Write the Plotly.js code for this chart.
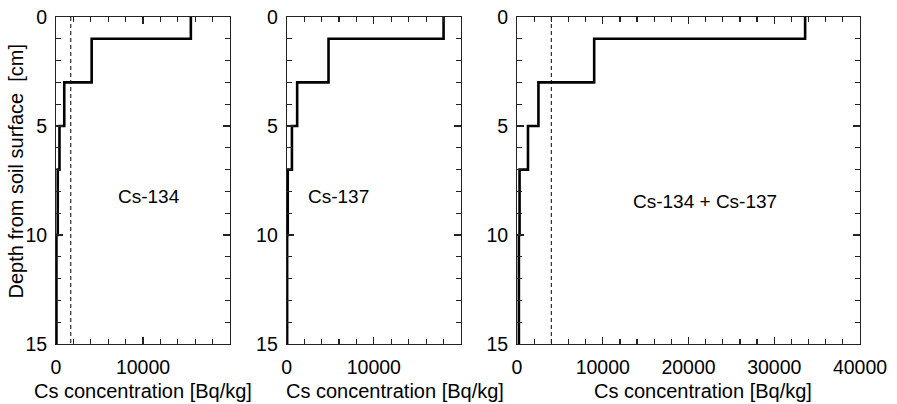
<!DOCTYPE html>
<html>
<head>
<meta charset="utf-8">
<script src="https://cdn.plot.ly/plotly-3.0.1.min.js"></script>
<style>html,body{margin:0;padding:0;background:#fff;}#chart{width:897px;height:404px;}</style>
</head>
<body>
<div id="chart"></div>
<script>
// Depth layer boundaries [cm]
const depthBounds = [0, 1, 3, 5, 7, 10, 15];
// Concentration per layer [Bq/kg]
const cs134 = [15500, 4100, 950, 400, 200, 50];
const cs137 = [18000, 4800, 1200, 600, 120, 50];
const csTotal = [33600, 9000, 2500, 1280, 300, 220];
// Dashed reference lines [Bq/kg]
const ref134 = 1700;
const refTotal = 4000;
// Tick values
const xTicksSmall = [0, 10000];
const xTicksLarge = [0, 10000, 20000, 30000, 40000];
const yTicks = [0, 5, 10, 15];
// Labels
const panelLabels = ["Cs-134", "Cs-137", "Cs-134 + Cs-137"];
const xTitle = "Cs concentration [Bq/kg]";
const yTitle = "Depth from soil surface  [cm]";

const FONT = "Liberation Sans, Arial, Helvetica, sans-serif";
const FS = 19.5;
const FT = 20;
const AX = "#222";

function stepTrace(vals, xa, ya) {
  return {
    x: vals.concat([vals[vals.length - 1]]),
    y: depthBounds.slice(),
    xaxis: xa, yaxis: ya,
    mode: "lines",
    line: {color: "#000", width: 2.6, shape: "vh"},
    hoverinfo: "skip", showlegend: false
  };
}
function dashTrace(v, xa, ya) {
  return {
    x: [v, v], y: [depthBounds[0], depthBounds[depthBounds.length - 1]],
    xaxis: xa, yaxis: ya, mode: "lines",
    line: {color: "#000", width: 1, dash: "4px,3px"},
    hoverinfo: "skip", showlegend: false
  };
}

const data = [
  stepTrace(cs134, "x", "y"),
  dashTrace(ref134, "x", "y"),
  stepTrace(cs137, "x2", "y2"),
  stepTrace(csTotal, "x3", "y3"),
  dashTrace(refTotal, "x3", "y3")
];

function xax(domain, range, tickvals, anchor) {
  return {
    anchor: anchor, domain: domain, range: range,
    tickmode: "array", tickvals: tickvals, ticktext: tickvals.map(String),
    ticks: "inside", ticklen: 7, tickwidth: 1.2, tickcolor: AX,
    showline: true, linecolor: AX, linewidth: 1, mirror: "allticks",
    showgrid: false, zeroline: false,
    minor: {tickmode: "linear", tick0: 0, dtick: 2000, ticks: "inside", ticklen: 5, tickwidth: 1.2, tickcolor: AX},
    tickfont: {family: FONT, size: FS, color: "#000"},
    ticklabelstandoff: 6
  };
}
function yax(anchor) {
  return {
    anchor: anchor, domain: [0, 1], range: [15, 0],
    tickmode: "array", tickvals: yTicks, ticktext: yTicks.map(String),
    ticks: "inside", ticklen: 7, tickwidth: 1.2, tickcolor: AX,
    showline: true, linecolor: AX, linewidth: 1, mirror: "allticks",
    showgrid: false, zeroline: false,
    minor: {tickmode: "linear", tick0: 0, dtick: 1, ticks: "inside", ticklen: 5, tickwidth: 1.2, tickcolor: AX},
    tickfont: {family: FONT, size: FS, color: "#000"},
    ticklabelstandoff: 4
  };
}

const W = 804, H = 327, L = 56, T = 17;
function px2x(px) { return (px - L) / W; }
function px2y(py) { return (T + H - py) / H; }

const layout = {
  width: 897, height: 404,
  margin: {l: 56, r: 37, t: 17, b: 60},
  paper_bgcolor: "#fff", plot_bgcolor: "#fff",
  font: {family: FONT, size: FS, color: "#000"},
  showlegend: false,
  xaxis: xax([0, px2x(230)], [0, 20000], xTicksSmall, "y"),
  xaxis2: xax([px2x(286.7), px2x(461)], [0, 20000], xTicksSmall, "y2"),
  xaxis3: xax([px2x(517), 1], [0, 40000], xTicksLarge, "y3"),
  yaxis: yax("x"),
  yaxis2: yax("x2"),
  yaxis3: yax("x3"),
  annotations: [
    {text: panelLabels[0], xref: "x", yref: "y", x: 10700, y: 8.24, showarrow: false, font: {family: FONT, size: 19}},
    {text: panelLabels[1], xref: "x2", yref: "y2", x: 6000, y: 8.24, showarrow: false, font: {family: FONT, size: 19}},
    {text: panelLabels[2], xref: "x3", yref: "y3", x: 21900, y: 8.47, showarrow: false, font: {family: FONT, size: 19}},
    {text: xTitle, xref: "paper", yref: "paper", x: px2x(142.5), y: px2y(391), xanchor: "center", yanchor: "middle", borderpad: 0, showarrow: false, font: {family: FONT, size: FT}},
    {text: xTitle, xref: "paper", yref: "paper", x: px2x(394.5), y: px2y(391), xanchor: "center", yanchor: "middle", borderpad: 0, showarrow: false, font: {family: FONT, size: FT}},
    {text: xTitle, xref: "paper", yref: "paper", x: px2x(702.5), y: px2y(391), xanchor: "center", yanchor: "middle", borderpad: 0, showarrow: false, font: {family: FONT, size: FT}},
    {text: yTitle, xref: "paper", yref: "paper", x: px2x(15), y: px2y(171.5), xanchor: "center", yanchor: "middle", textangle: -90, showarrow: false, font: {family: FONT, size: FT}}
  ]
};

Plotly.newPlot("chart", data, layout, {displayModeBar: false, staticPlot: true});
</script>
</body>
</html>
